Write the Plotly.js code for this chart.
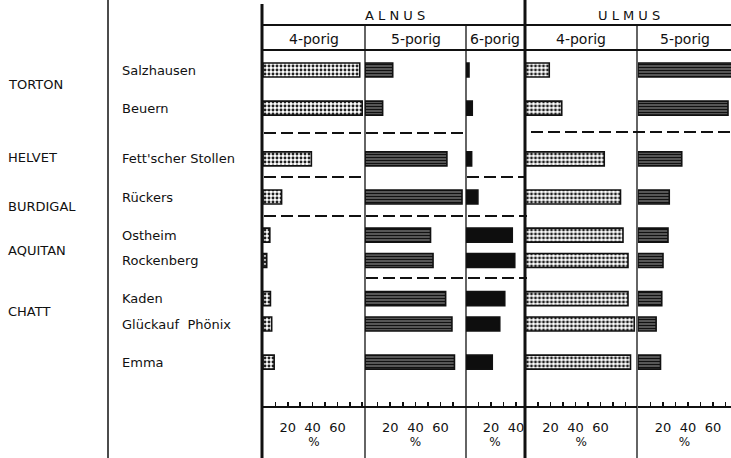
<!DOCTYPE html>
<html>
<head>
<meta charset="utf-8">
<script src="https://cdn.plot.ly/plotly-3.0.1.min.js"></script>
<style>
  html, body { margin: 0; padding: 0; background: #fff; }
  #chart { width: 731px; height: 458px; }
</style>
</head>
<body>
<div id="chart"></div>
<script>
// Pollen pore classes of Alnus and Ulmus in Tertiary deposits (percent)
const sites = ['Salzhausen', 'Beuern', "Fett'scher Stollen", 'Rückers', 'Ostheim',
               'Rockenberg', 'Kaden', 'Glückauf  Phönix', 'Emma'];
const stages = ['TORTON', 'HELVET', 'BURDIGAL', 'AQUITAN', 'CHATT'];
const genera = ['A L N U S', 'U L M U S'];
const poreClasses = ['4-porig', '5-porig', '6-porig', '4-porig', '5-porig'];

const alnus4 = [78, 80, 39, 15, 5.5, 3, 6, 7, 9];
const alnus5 = [22, 14, 65, 77, 52, 54, 64, 69, 71];
const alnus6 = [2.4, 5, 4.5, 9.5, 37, 39, 31, 27, 21];
const ulmus4 = [19, 29, 63, 76, 78, 82, 82, 87, 84];
const ulmus5 = [78, 72, 35, 25, 24, 20, 19, 14.5, 18];

const tickValues = [10, 20, 30, 40, 50, 60, 70, 80];
const tickLabels = ['', '20', '', '40', '', '60', '', ''];

// ---- layout geometry (page pixels) ----
const W = 731, H = 458;
const px = x => x / W;
const py = y => 1 - y / H;
const ROW_SLOT = [0, 3, 7, 10, 13, 15, 18, 20, 23];   // vertical slot of each site row
const SLOT_TOP = 70, SLOT_PX = 12.7;                   // slot 0 centre and slot height
const STAGE_Y = [85, 157, 206, 250, 311];
const FONT = 'DejaVu Sans, sans-serif';
const INK = '#111111';

// panel: [left px, right px, px per percent]
const panels = [
  [263, 365, 1.24],
  [365, 466, 1.26],
  [466, 524, 1.25],
  [525.5, 637, 1.25],
  [638, 731, 1.25]
];
const series = [alnus4, alnus5, alnus6, ulmus4, ulmus5];

const dotted = { shape: '.', bgcolor: '#ffffff', fgcolor: '#222222', size: 4, solidity: 0.42 };
const hatched = { shape: '-', bgcolor: '#c8c8c8', fgcolor: '#111111', size: 3, solidity: 0.75 };
const markers = [
  { color: '#ffffff', pattern: dotted },
  { color: '#c8c8c8', pattern: hatched },
  { color: '#0e0e0e' },
  { color: '#ffffff', pattern: dotted },
  { color: '#c8c8c8', pattern: hatched }
];

const traces = series.map((vals, i) => ({
  type: 'bar',
  orientation: 'h',
  x: vals,
  y: ROW_SLOT,
  width: 1.1,
  xaxis: i === 0 ? 'x' : 'x' + (i + 1),
  yaxis: 'y',
  marker: Object.assign({ line: { color: INK, width: 1.6 } }, markers[i]),
  hoverinfo: 'skip',
  showlegend: false
}));

const layout = {
  width: W, height: H,
  margin: { l: 0, r: 0, t: 0, b: 0 },
  paper_bgcolor: '#fff', plot_bgcolor: 'rgba(0,0,0,0)',
  font: { family: FONT, color: INK, size: 13 },
  bargap: 0,
  yaxis: {
    domain: [0, 1], anchor: 'x',
    range: [(H - SLOT_TOP) / SLOT_PX, -SLOT_TOP / SLOT_PX],
    visible: false, fixedrange: true
  },
  shapes: [],
  annotations: []
};

panels.forEach((p, i) => {
  const key = i === 0 ? 'xaxis' : 'xaxis' + (i + 1);
  const maxPct = (p[1] - p[0]) / p[2];
  const tv = tickValues.filter(v => v < maxPct - 1);
  layout[key] = {
    domain: [px(p[0]), px(p[1])],
    range: [0, maxPct],
    anchor: 'free', position: py(407),
    showgrid: false, zeroline: false,
    showline: true, linecolor: INK, linewidth: 2,
    ticks: 'inside', ticklen: 4, tickwidth: 1.5, tickcolor: INK,
    tickvals: tv, ticktext: tv.map(v => tickLabels[tickValues.indexOf(v)]),
    ticklabelstandoff: 8,
    tickfont: { family: FONT, size: 13, color: INK },
    title: { text: '%', standoff: 3, font: { family: FONT, size: 12, color: INK } },
    fixedrange: true
  };
});

// frame lines
const line = (x0, y0, x1, y1, w, dash) => ({
  type: 'line', xref: 'paper', yref: 'paper',
  x0: px(x0), y0: py(y0), x1: px(x1), y1: py(y1),
  line: { color: INK, width: w, dash: dash || 'solid' }
});
layout.shapes.push(
  line(108, 0, 108, 458, 1.5),
  line(262, 4, 262, 458, 3),
  line(525, 0, 525, 458, 3),
  line(365, 25, 365, 458, 1.3),
  line(466, 25, 466, 458, 1.3),
  line(637, 25, 637, 458, 1.3),
  line(262, 25, 731, 25, 1.8),
  line(262, 50, 731, 50, 1.8)
);
// stage boundaries
const DASH = '12px,5px';
layout.shapes.push(
  line(264, 133, 463, 133, 2, DASH),
  line(531, 132, 731, 132, 2, DASH),
  line(264, 177, 362, 177, 2, DASH),
  line(467, 177, 524, 177, 2, DASH),
  line(264, 216, 527, 216, 2, DASH),
  line(366, 278, 527, 278, 2, DASH)
);

// headers
layout.annotations.push(
  { text: genera[0], x: px(395), y: py(16), xref: 'paper', yref: 'paper', showarrow: false,
    font: { size: 13 }, xanchor: 'center', yanchor: 'middle' },
  { text: genera[1], x: px(629), y: py(16), xref: 'paper', yref: 'paper', showarrow: false,
    font: { size: 13 }, xanchor: 'center', yanchor: 'middle' }
);
panels.forEach((p, i) => {
  layout.annotations.push({
    text: poreClasses[i], x: px((p[0] + p[1]) / 2), y: py(39), xref: 'paper', yref: 'paper',
    showarrow: false, font: { size: 14 }, xanchor: 'center', yanchor: 'middle'
  });
});

// site names
sites.forEach((s, i) => {
  layout.annotations.push({
    text: s, x: px(120), y: ROW_SLOT[i], xref: 'paper', yref: 'y',
    showarrow: false, font: { size: 13 }, xanchor: 'left', yanchor: 'middle'
  });
});
// stratigraphic stages
stages.forEach((s, i) => {
  layout.annotations.push({
    text: s, x: px(6), y: py(STAGE_Y[i]), xref: 'paper', yref: 'paper',
    showarrow: false, font: { size: 13 }, xanchor: 'left', yanchor: 'middle'
  });
});

Plotly.newPlot('chart', traces, layout, { staticPlot: true, displayModeBar: false });
</script>
</body>
</html>
